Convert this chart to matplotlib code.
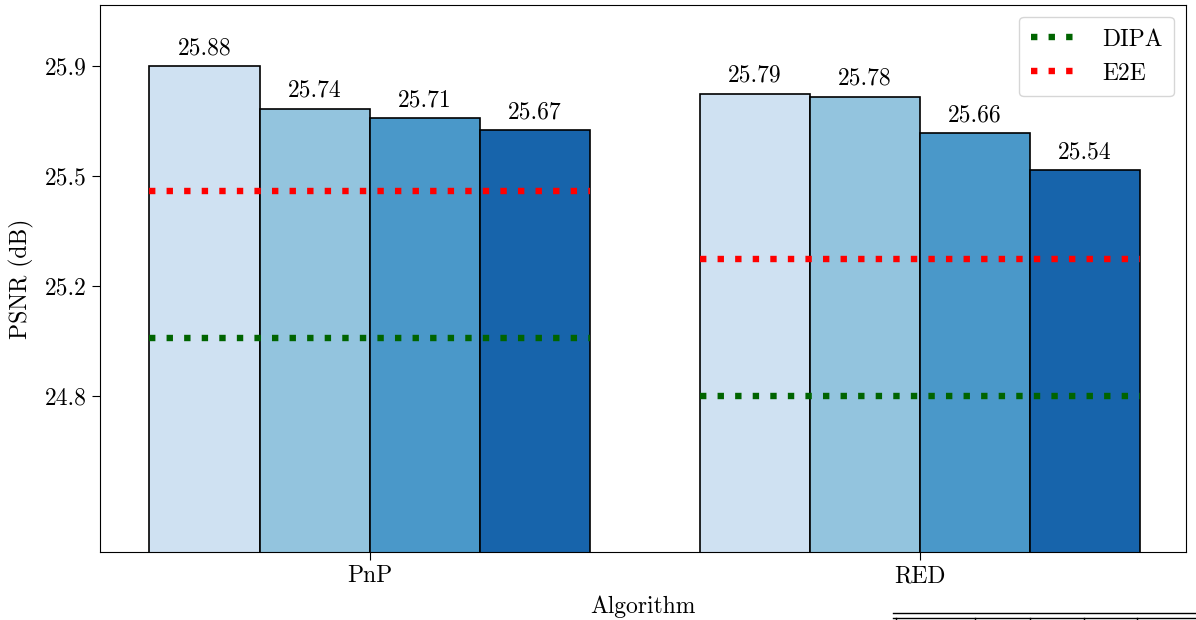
import numpy as np
import matplotlib.pyplot as plt
from matplotlib.lines import Line2D

plt.rcParams['font.family'] = 'serif'
plt.rcParams['font.serif'] = ['cmr10']
plt.rcParams['mathtext.fontset'] = 'cm'
plt.rcParams['axes.formatter.use_mathtext'] = True

# data
algorithms = ['PnP', 'RED']
psnr = [
    [25.88, 25.74, 25.71, 25.67],  # PnP
    [25.79, 25.78, 25.66, 25.54],  # RED
]
dipa = [24.99, 24.80]
e2e = [25.47, 25.25]
bar_colors = ['#cfe1f2', '#93c4de', '#4a98c9', '#1764ab']

fig = plt.figure(figsize=(11.96, 6.20), dpi=100)
ax = fig.add_axes([0.0836, 0.1097, 0.9080, 0.8823])

width = 0.2
x = np.arange(len(algorithms))
for i, vals in enumerate(psnr):
    for j, v in enumerate(vals):
        xpos = x[i] + (j - 1.5) * width
        ax.bar(xpos, v, width, color=bar_colors[j], edgecolor='black', linewidth=1.2, zorder=2)
        ax.annotate(f"{v:.2f}", (xpos, v), xytext=(0, 5), textcoords='offset points',
                    ha='center', va='bottom', fontsize=17)

dots = (0, (1, 1.75))
for i in range(len(algorithms)):
    x0 = x[i] - 2 * width
    x1 = x[i] + 2 * width
    ax.plot([x0, x1], [dipa[i], dipa[i]], color='#006400', linestyle=dots, lw=4.6, zorder=3,
            label='DIPA' if i == 0 else None)
    ax.plot([x0, x1], [e2e[i], e2e[i]], color='red', linestyle=dots, lw=4.6, zorder=3,
            label='E2E' if i == 0 else None)

lo = min(min(dipa), min(e2e), min(min(p) for p in psnr))
hi = max(max(p) for p in psnr)
ticks = np.linspace(lo, hi, 4)
ax.set_yticks(ticks)
ax.set_yticklabels([f"{t:.1f}" for t in ticks])
ax.set_ylim(lo - 0.51, hi + 0.2)
ax.set_xlim(-0.49, 1.484)
ax.set_xticks(x)
ax.set_xticklabels(algorithms)
ax.tick_params(labelsize=17, length=6)
ax.set_xlabel('Algorithm', fontsize=17, labelpad=6)
ax.set_ylabel('PSNR (dB)', fontsize=17, labelpad=8)
ax.legend(loc='upper right', fontsize=17, handlelength=2.2, borderpad=0.5)

# cut-off table at the bottom edge
for yy in (1 - 613 / 620, 1 - 618 / 620):
    fig.add_artist(Line2D([893 / 1196, 1.0], [yy, yy], color='black', lw=1.0))
for xx in (896, 975, 1030, 1084, 1137):
    fig.add_artist(Line2D([xx / 1196, xx / 1196], [0, 1 - 618 / 620], color='black', lw=1.0))

fig.savefig('out.png', dpi=100)
